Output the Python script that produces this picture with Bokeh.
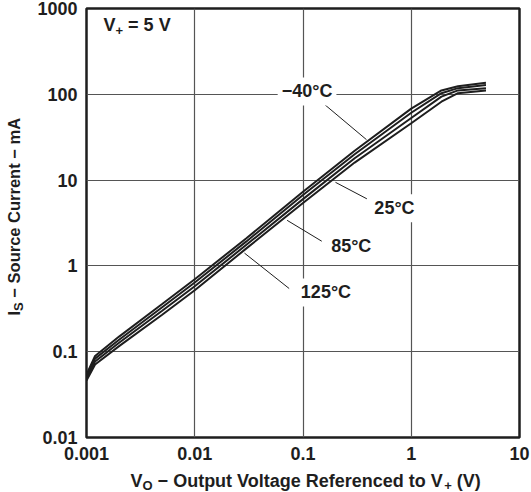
import math
from bokeh.plotting import figure
from bokeh.models import Label, FixedTicker, CustomJSTickFormatter, Range1d
from bokeh.layouts import column, row
from bokeh.embed import file_html
from bokeh.resources import INLINE

# ---------------- data ----------------
v_out = [0.001, 0.0012, 0.002, 0.005, 0.01, 0.03, 0.1, 0.3, 1, 1.9, 2.7, 4.9]
i_m40 = [0.054, 0.089, 0.150, 0.36, 0.70, 2.10, 7.3, 22.0, 68, 111, 124, 136]
i_25 = [0.051, 0.083, 0.138, 0.33, 0.64, 1.93, 6.7, 20.0, 61, 103, 118, 128]
i_85 = [0.049, 0.077, 0.127, 0.30, 0.58, 1.76, 6.0, 18.0, 53, 94, 111, 118]
i_125 = [0.046, 0.071, 0.116, 0.27, 0.52, 1.60, 5.4, 16.0, 46, 82, 103, 111]
series = [i_m40, i_25, i_85, i_125]

x_ticks = [0.001, 0.01, 0.1, 1, 10]
x_tick_labels = ["0.001", "0.01", "0.1", "1", "10"]
y_ticks = [0.01, 0.1, 1, 10, 100, 1000]
y_tick_labels = ["0.01", "0.1", "1", "10", "100", "1000"]

curve_labels = ["\u221240\u00b0C", "25\u00b0C", "85\u00b0C", "125\u00b0C"]
label_x = [0.109, 0.70, 0.279, 0.163]
label_y = [108, 4.7, 1.70, 0.49]
leader_x0 = [0.158, 0.1995, 0.0713, 0.0288]
leader_y0 = [76.2, 9.42, 3.40, 1.41]
leader_x1 = [0.386, 0.389, 0.149, 0.0745]
leader_y1 = [29.6, 6.05, 1.94, 0.545]

FONT = "Liberation Sans"
INK = "#1e1e1e"
CAP = 0.36  # half cap-height (em) : distance from baseline to visual middle

# Arial/Liberation Sans Bold advance widths (per 1000 em)
W = {' ': 278, '\u2212': 584, '(': 333, ')': 333, '+': 584, '=': 584, '.': 278,
     '\u00b0': 400, 'A': 722, 'C': 722, 'I': 278, 'O': 778, 'R': 722, 'S': 667,
     'V': 667, 'a': 556, 'c': 556, 'd': 611, 'e': 556, 'f': 333, 'g': 611,
     'l': 278, 'm': 889, 'n': 611, 'o': 611, 'p': 611, 'r': 389, 's': 556,
     't': 333, 'u': 611}
for d in "0123456789":
    W[d] = 556


def tw(s, size):
    return sum(W.get(c, 556) for c in s) * size / 1000.0


def mk_label(fig, x, y, txt, size, **kw):
    fig.add_layout(Label(x=x, y=y, text=txt, text_font=FONT, text_font_style="bold",
                         text_font_size=f"{size}px", text_color=INK, **kw))


def run_pieces(parts, start):
    """Return (advance position, stripped text, size, dy) for inline text pieces."""
    pos = start
    out = []
    for txt, size, dy in parts:
        lead = len(txt) - len(txt.lstrip(" "))
        pos += tw(" " * lead, size)
        body = txt.lstrip(" ")
        out.append((pos, body, size, dy))
        pos += tw(body, size)
    return out


def blank_panel(w, h):
    f = figure(width=w, height=h, x_range=Range1d(0, w), y_range=Range1d(0, h),
               output_backend="svg", toolbar_location=None, title=None,
               min_border_left=0, min_border_right=0, min_border_top=0, min_border_bottom=0,
               frame_width=w, frame_height=h,
               x_axis_location=None, y_axis_location=None)
    f.grid.visible = False
    f.outline_line_color = None
    f.border_fill_color = "white"
    f.background_fill_color = "white"
    return f


YT_W = 28

# ---------------- main plot ----------------
p = figure(width=531 - YT_W, height=465, x_axis_type="log", y_axis_type="log",
           x_range=Range1d(0.001, 10), y_range=Range1d(0.01, 1000),
           output_backend="svg", toolbar_location=None, title=None,
           min_border_left=86 - YT_W, min_border_right=12,
           min_border_top=8, min_border_bottom=28)
p.background_fill_color = "white"
p.border_fill_color = "white"
p.outline_line_color = INK
p.outline_line_width = 2.5

xt = FixedTicker(ticks=x_ticks, minor_ticks=[])
yt = FixedTicker(ticks=y_ticks, minor_ticks=[])
p.xaxis.ticker = xt
p.yaxis.ticker = yt
fmt_code = """
for (let i = 0; i < tvals.length; i++) {
  if (Math.abs(Math.log10(tick) - Math.log10(tvals[i])) < 1e-6) return tlabels[i];
}
return "";
"""
p.xaxis.formatter = CustomJSTickFormatter(args=dict(tvals=x_ticks, tlabels=x_tick_labels), code=fmt_code)
p.yaxis.formatter = CustomJSTickFormatter(args=dict(tvals=y_ticks, tlabels=y_tick_labels), code=fmt_code)
for ax in (p.xaxis, p.yaxis):
    ax.axis_line_color = None
    ax.major_tick_line_color = None
    ax.minor_tick_line_color = None
    ax.major_tick_out = 0
    ax.major_tick_in = 0
    ax.minor_tick_out = 0
    ax.minor_tick_in = 0
    ax.major_label_text_font = FONT
    ax.major_label_text_font_style = "bold"
    ax.major_label_text_font_size = "18px"
    ax.major_label_text_color = INK
p.xaxis.major_label_standoff = 9
p.yaxis.major_label_standoff = 9

p.xgrid.ticker = xt
p.ygrid.ticker = yt
for g in (p.xgrid, p.ygrid):
    g.grid_line_color = "#555555"
    g.grid_line_width = 1.2

for s in series:
    p.line(v_out, s, line_color=INK, line_width=2.0)

p.segment(leader_x0, leader_y0, leader_x1, leader_y1, line_color=INK, line_width=1.0)

for t, lx, ly in zip(curve_labels, label_x, label_y):
    mk_label(p, lx, ly, t, 18, text_align="center", text_baseline="middle",
             background_fill_color="white", padding=4)

# condition label  V+ = 5 V  (anchored at the frame's top-left corner, baseline 23 px below)
cparts = [("V", 18, 0), ("+", 13, -3.5), (" = 5 V", 18, 0)]
for pos, body, size, dy in run_pieces(cparts, 17):
    mk_label(p, 0.001, 1000, body, size, x_offset=pos,
             y_offset=-23 + dy + CAP * size,
             text_align="left", text_baseline="middle")

# ---------------- y axis title panel ----------------
ytf = blank_panel(YT_W, 465)
yparts = [("I", 16.5, 0), ("S", 13, -3.5), (" \u2212 Source Current \u2212 mA", 16.5, 0)]
for pos, body, size, dy in run_pieces(yparts, 465 - 307):
    mk_label(ytf, 19 - dy - CAP * size, pos, body, size, angle=math.pi / 2,
             text_align="left", text_baseline="middle")

# ---------------- x axis title panel ----------------
xtf = blank_panel(531, 27)
xparts = [("V", 18, 0), ("O", 13, -3.5),
          (" \u2212 Output Voltage Referenced to V", 18, 0), ("+", 13, -3.5),
          (" (V)", 18, 0)]
for pos, body, size, dy in run_pieces(xparts, 130):
    mk_label(xtf, pos, 5.5 + dy + CAP * size, body, size,
             text_align="left", text_baseline="middle")

layout = column(row(ytf, p, spacing=0), xtf, spacing=0)
open("out.html", "w").write(file_html(layout, INLINE))
